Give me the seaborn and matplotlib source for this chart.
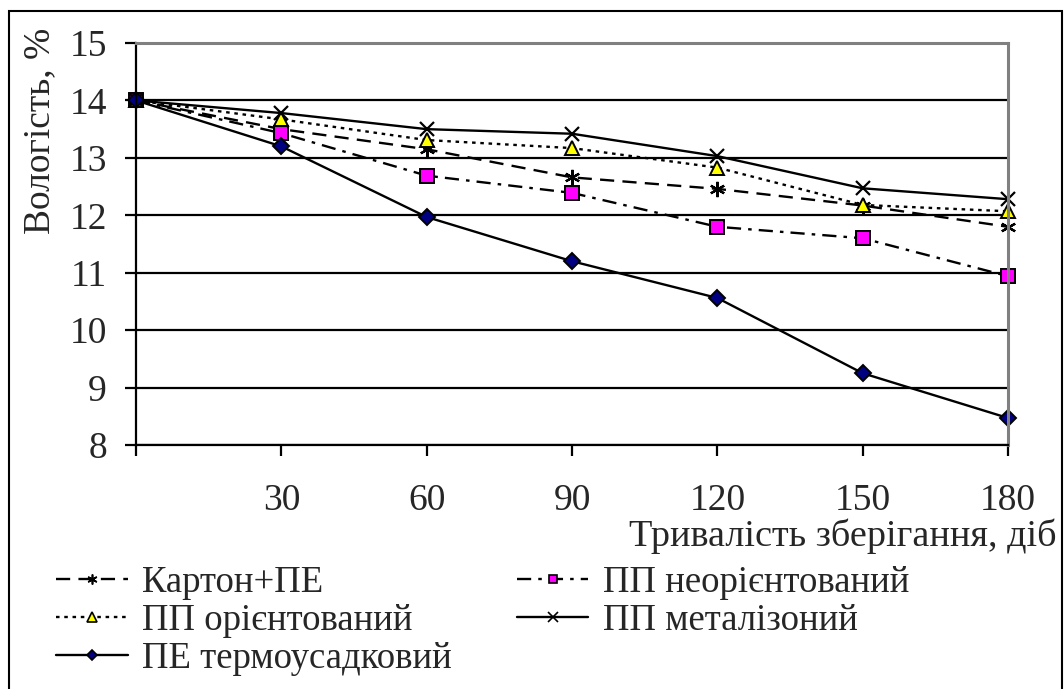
import matplotlib
matplotlib.use("Agg")
import matplotlib.pyplot as plt
from matplotlib.lines import Line2D
from matplotlib.patches import Rectangle
import seaborn as sns
import pandas as pd

days = [0, 30, 60, 90, 120, 150, 180]
tick_labels = ["", "30", "60", "90", "120", "150", "180"]
series_names = ["Картон+ПЕ", "ПП неорієнтований", "ПП орієнтований",
                "ПП металізоний", "ПЕ термоусадковий"]
karton_pe = [14.0, 13.5, 13.15, 12.66, 12.46, 12.17, 11.8]
pp_neor = [14.0, 13.43, 12.69, 12.39, 11.8, 11.6, 10.94]
pp_or = [14.0, 13.67, 13.31, 13.17, 12.83, 12.18, 12.07]
pp_met = [14.0, 13.78, 13.5, 13.42, 13.03, 12.47, 12.28]
pe_term = [14.0, 13.2, 11.97, 11.2, 10.56, 9.25, 8.47]
values = [karton_pe, pp_neor, pp_or, pp_met, pe_term]

rows = []
for name, vals in zip(series_names, values):
    for d, v in zip(days, vals):
        rows.append({"day": d, "value": v, "series": name})
df = pd.DataFrame(rows)

sns.set_style("white")
plt.rcParams["font.family"] = ["Liberation Serif", "DejaVu Serif"]

W, H = 1064, 689
fig = plt.figure(figsize=(W / 100, H / 100), dpi=100)
ax = fig.add_axes([136 / W, 1 - 445 / H, (1008 - 136) / W, (445 - 43) / H])

LW = 1.7
styles = {
    "Картон+ПЕ": dict(marker=(6, 2, 0), ms=11, mfc="black", ls=(0, (6, 3.5)), mew=1.6),
    "ПП неорієнтований": dict(marker="s", ms=9.5, mfc="#FF00FF", ls=(0, (6, 3, 1.5, 3)), mew=1.4),
    "ПП орієнтований": dict(marker="^", ms=10, mfc="#FFFF00", ls=(0, (1.5, 2)), mew=1.4),
    "ПП металізоний": dict(marker="x", ms=10, mfc="black", ls="-", mew=1.6),
    "ПЕ термоусадковий": dict(marker="D", ms=8, mfc="#000080", ls="-", mew=1.4),
}

for name in series_names:
    st = styles[name]
    sns.lineplot(data=df[df["series"] == name], x="day", y="value", ax=ax,
                 color="black", linewidth=LW, linestyle=st["ls"],
                 marker=st["marker"], markersize=st["ms"],
                 markerfacecolor=st["mfc"], markeredgecolor="black",
                 markeredgewidth=st["mew"], clip_on=False, legend=False,
                 errorbar=None)

ax.set_xlim(0, 180)
ax.set_ylim(8, 15)
ax.set_xticks(days)
ax.set_xticklabels(tick_labels)
ax.set_yticks(range(8, 16))
ax.set_xlabel("")
ax.set_ylabel("")
ax.set_axisbelow(True)
ax.yaxis.grid(True, color="black", linewidth=1.6)
ax.xaxis.grid(False)
for side in ["left", "bottom"]:
    ax.spines[side].set_color("black")
    ax.spines[side].set_linewidth(1.6)
for side in ["top", "right"]:
    ax.spines[side].set_color("#808080")
    ax.spines[side].set_linewidth(2.2)
ax.tick_params(axis="both", which="both", direction="out", length=8,
               width=1.6, color="black", labelsize=27)
ax.tick_params(axis="x", pad=20, bottom=True)
ax.tick_params(axis="y", pad=13, left=True)

fig.text(40 / W, 1 - 131 / H, "Вологість, %", rotation=90, ha="center",
         va="center", fontsize=27)
fig.text(1057 / W, 1 - 536 / H, "Тривалість зберігання, діб", ha="right",
         va="center", fontsize=27.5)

order = ["Картон+ПЕ", "ПП орієнтований", "ПЕ термоусадковий",
         "ПП неорієнтований", "ПП металізоний"]
handles = []
for name in order:
    st = styles[name]
    handles.append(Line2D([], [], color="black", linewidth=LW, linestyle=st["ls"],
                          marker=st["marker"], markersize=st["ms"] * 0.65,
                          markerfacecolor=st["mfc"], markeredgecolor="black",
                          markeredgewidth=1.2))
fig.legend(handles, order, ncol=2, loc="upper left",
           bbox_to_anchor=(56 / W, 1 - 565 / H), frameon=False, fontsize=26.5,
           handlelength=1.95, handletextpad=0.4, columnspacing=1.75,
           labelspacing=0.1, borderpad=0, borderaxespad=0)

fig.patches.append(Rectangle((9 / W, -0.05), (1062 - 9) / W, 1.05 - 11 / H,
                             transform=fig.transFigure, fill=False,
                             edgecolor="black", linewidth=1.5))

fig.savefig("out.png", dpi=100)
